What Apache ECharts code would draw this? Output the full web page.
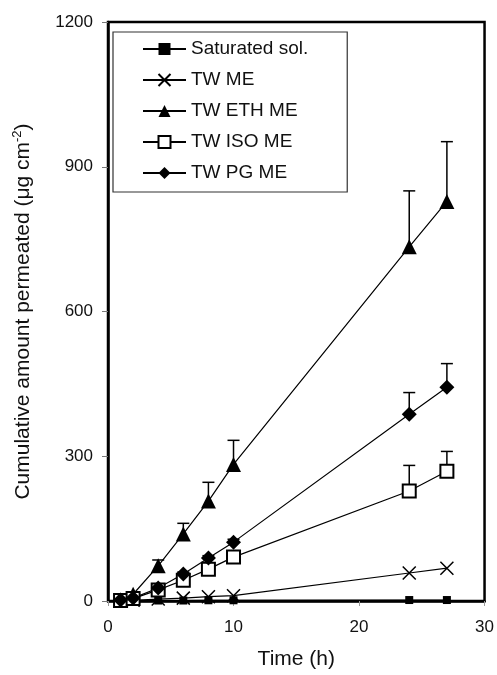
<!DOCTYPE html>
<html>
<head>
    <meta charset="utf-8">
    <title>Permeation</title>
    <script src="https://cdn.jsdelivr.net/npm/echarts@6/dist/echarts.min.js"></script>
</head>
<body style="margin:0">
<div id="main" style="width:497px;height:675px;"></div>
<script type="text/javascript">
var times = [1, 2, 4, 6, 8, 10, 24, 27];
var saturated = [0.5, 0.5, 1, 1, 1.5, 1.5, 2, 2];
var twMe = [0.5, 1.5, 4, 6, 9, 11, 58, 68];
var twEth = [1, 14, 73, 139, 207, 283, 734, 828];
var twEthErr = [0, 3, 12, 22, 39, 50, 116, 124];
var twIso = [1, 5, 23, 43, 66, 91, 228, 269];
var twIsoErr = [0, 1, 3, 4, 5, 6, 53, 41];
var twPg = [2, 6, 27, 56, 89, 122, 387, 443];
var twPgErr = [0, 1, 3, 4, 5, 6, 45, 49];
var xTicks = [0, 10, 20, 30];
var yTicks = [0, 300, 600, 900, 1200];

var font = 'Liberation Sans, Arial, sans-serif';

function pairs(vals) {
    var out = [];
    for (var i = 0; i < times.length; i++) out.push([times[i], vals[i]]);
    return out;
}
function errPairs(vals, errs) {
    var out = [];
    for (var i = 0; i < times.length; i++) {
        if (errs[i] > 0) out.push([times[i], vals[i], vals[i] + errs[i]]);
    }
    return out;
}
function errorBars(vals, errs) {
    return {
        type: 'custom',
        silent: true,
        z: 1,
        data: errPairs(vals, errs),
        renderItem: function (params, api) {
            var lo = api.coord([api.value(0), api.value(1)]);
            var hi = api.coord([api.value(0), api.value(2)]);
            return {
                type: 'group',
                children: [
                    {type: 'line', shape: {x1: lo[0], y1: lo[1], x2: hi[0], y2: hi[1]},
                     style: {stroke: '#000', lineWidth: 1.5}},
                    {type: 'line', shape: {x1: hi[0] - 6, y1: hi[1], x2: hi[0] + 6, y2: hi[1]},
                     style: {stroke: '#000', lineWidth: 1.5}}
                ]
            };
        }
    };
}
function lineSeries(name, vals, symbol, size, itemStyle) {
    return {
        name: name,
        type: 'line',
        z: 3,
        data: pairs(vals),
        symbol: symbol,
        symbolSize: size,
        showAllSymbol: true,
        lineStyle: {color: '#000', width: 1.2},
        itemStyle: itemStyle,
        emphasis: {disabled: true}
    };
}

var myChart = echarts.init(document.getElementById('main'));
var option = {
    animation: false,
    textStyle: {fontFamily: font},
    grid: {
        left: 108, top: 22, right: 12, bottom: 73,
        show: true, borderColor: '#000', borderWidth: 2.5
    },
    legend: {
        orient: 'vertical',
        left: 113, top: 32,
        padding: [7, 39, 9, 29],
        borderColor: '#333', borderWidth: 1.2,
        itemWidth: 43, itemHeight: 15, itemGap: 11,
        textStyle: {fontSize: 19, color: '#111', fontFamily: font, lineHeight: 20},
        data: ['Saturated sol.', 'TW ME', 'TW ETH ME', 'TW ISO ME', 'TW PG ME']
    },
    xAxis: {
        type: 'value',
        min: xTicks[0], max: xTicks[xTicks.length - 1], interval: 10,
        name: 'Time (h)',
        nameLocation: 'middle',
        nameGap: 48,
        nameTextStyle: {fontSize: 21, color: '#111', fontFamily: font},
        axisLine: {lineStyle: {color: '#000', width: 2.5}},
        axisTick: {show: true, length: 5, lineStyle: {color: '#999', width: 1}},
        axisLabel: {fontSize: 17, color: '#111', margin: 18, fontFamily: font},
        splitLine: {show: false}
    },
    yAxis: {
        type: 'value',
        min: yTicks[0], max: yTicks[yTicks.length - 1], interval: 300,
        name: '{a|Cumulative amount permeated (μg cm}{s|-2}{a|)}',
        nameLocation: 'middle',
        nameGap: 72,
        nameTextStyle: {
            fontFamily: font,
            rich: {
                a: {fontSize: 21, color: '#111', fontFamily: font, lineHeight: 26},
                s: {fontSize: 13, color: '#111', fontFamily: font, lineHeight: 26, padding: [0, 0, 12, 0]}
            }
        },
        axisLine: {lineStyle: {color: '#000', width: 2.5}},
        axisTick: {show: true, length: 6, lineStyle: {color: '#777', width: 1}},
        axisLabel: {
            fontSize: 17, color: '#111', margin: 15, fontFamily: font,
            formatter: function (v) { return String(v); }
        },
        splitLine: {show: false}
    },
    series: [
        errorBars(twEth, twEthErr),
        errorBars(twIso, twIsoErr),
        errorBars(twPg, twPgErr),
        lineSeries('Saturated sol.', saturated, 'rect', 8, {color: '#000'}),
        lineSeries('TW ME', twMe, 'path://M0,0L10,10M10,0L0,10', 13,
            {color: 'rgba(0,0,0,0)', borderColor: '#000', borderWidth: 1.5}),
        lineSeries('TW ETH ME', twEth, 'triangle', 15, {color: '#000'}),
        lineSeries('TW ISO ME', twIso, 'emptyRect', 13, {color: '#000', borderWidth: 1.5}),
        lineSeries('TW PG ME', twPg, 'diamond', 15, {color: '#000'})
    ]
};
myChart.setOption(option);
window.onresize = function () {
    myChart.resize();
};
</script>
</body>
</html>
